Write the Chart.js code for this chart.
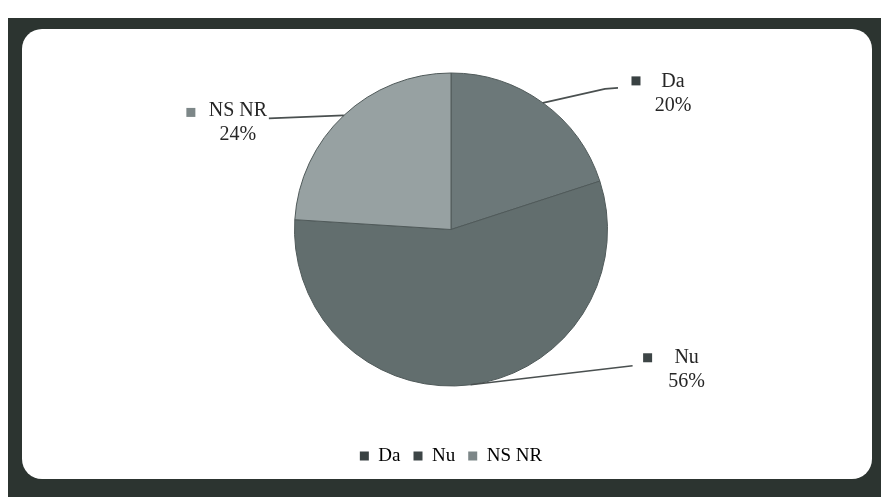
<!DOCTYPE html>
<html><head><meta charset="utf-8">
<script src="https://cdn.jsdelivr.net/npm/chart.js@4"></script>
<style>html,body{margin:0;padding:0;background:#fff;overflow:hidden}canvas{display:block}</style>
</head><body>
<canvas id="c" width="881" height="497"></canvas>
<script>
const categories = ['Da', 'Nu', 'NS NR'];
const values = [20, 56, 24];
const percentLabels = ['20%', '56%', '24%'];
const sliceColors = ['#6c7879', '#626e6e', '#97a1a2'];
const markerColors = ['#394142', '#3d4546', '#7d8788'];

// label placement offsets relative to each slice's outer mid-arc point (style only)
const labelLayout = [
  {line: [[62, -14], [75, -15]], text: [130, -21], marker: [93, -22]},
  {line: [[162, -19]], text: [216, -27], marker: [177, -27]},
  {line: [[-75, 3]], text: [-106, -5], marker: [-153, -3]}
];

const framePlugin = {
  id: 'frame',
  beforeDraw(chart) {
    const ctx = chart.ctx;
    ctx.save();
    ctx.fillStyle = '#ffffff';
    ctx.fillRect(0, 0, chart.width, chart.height);
    ctx.fillStyle = '#2c3430';
    ctx.fillRect(8, 18, chart.width - 8, chart.height - 18);
    ctx.fillStyle = '#ffffff';
    ctx.beginPath();
    ctx.roundRect(22, 29, 850, 450, 20);
    ctx.fill();
    ctx.restore();
  }
};

const labelPlugin = {
  id: 'outLabels',
  afterDatasetsDraw(chart) {
    const ctx = chart.ctx;
    const meta = chart.getDatasetMeta(0);
    ctx.save();
    meta.data.forEach((arc, i) => {
      const p = arc.getProps(['x', 'y', 'startAngle', 'endAngle', 'outerRadius'], true);
      const mid = (p.startAngle + p.endAngle) / 2;
      const ax = p.x + Math.cos(mid) * p.outerRadius;
      const ay = p.y + Math.sin(mid) * p.outerRadius;
      const L = labelLayout[i];
      ctx.strokeStyle = '#4a5050';
      ctx.lineWidth = 1.6;
      ctx.beginPath();
      ctx.moveTo(ax, ay);
      L.line.forEach(([dx, dy]) => ctx.lineTo(ax + dx, ay + dy));
      ctx.stroke();
      ctx.fillStyle = markerColors[i];
      ctx.fillRect(ax + L.marker[0] - 4.5, ay + L.marker[1] - 4.5, 9, 9);
      ctx.fillStyle = '#262626';
      ctx.font = '20px "Liberation Serif", serif';
      ctx.textAlign = 'center';
      ctx.textBaseline = 'middle';
      ctx.fillText(categories[i], ax + L.text[0], ay + L.text[1]);
      ctx.fillText(percentLabels[i], ax + L.text[0], ay + L.text[1] + 24);
    });
    ctx.restore();
  }
};

new Chart(document.getElementById('c'), {
  type: 'pie',
  data: {
    labels: categories,
    datasets: [{
      data: values,
      backgroundColor: sliceColors,
      borderColor: '#505a5a',
      borderWidth: 1
    }]
  },
  options: {
    responsive: false,
    animation: false,
    layout: {padding: {left: 294, right: 273, top: 25.5, bottom: 21.5}},
    plugins: {
      tooltip: {enabled: false},
      legend: {
        position: 'bottom',
        labels: {
          boxWidth: 9,
          boxHeight: 9,
          padding: 13,
          color: '#262626',
          font: {family: '"Liberation Serif", serif', size: 19},
          generateLabels(chart) {
            return categories.map((c, i) => ({
              text: c,
              fillStyle: markerColors[i],
              strokeStyle: markerColors[i],
              lineWidth: 0,
              index: i
            }));
          }
        }
      }
    }
  },
  plugins: [framePlugin, labelPlugin]
});
</script>
</body></html>
